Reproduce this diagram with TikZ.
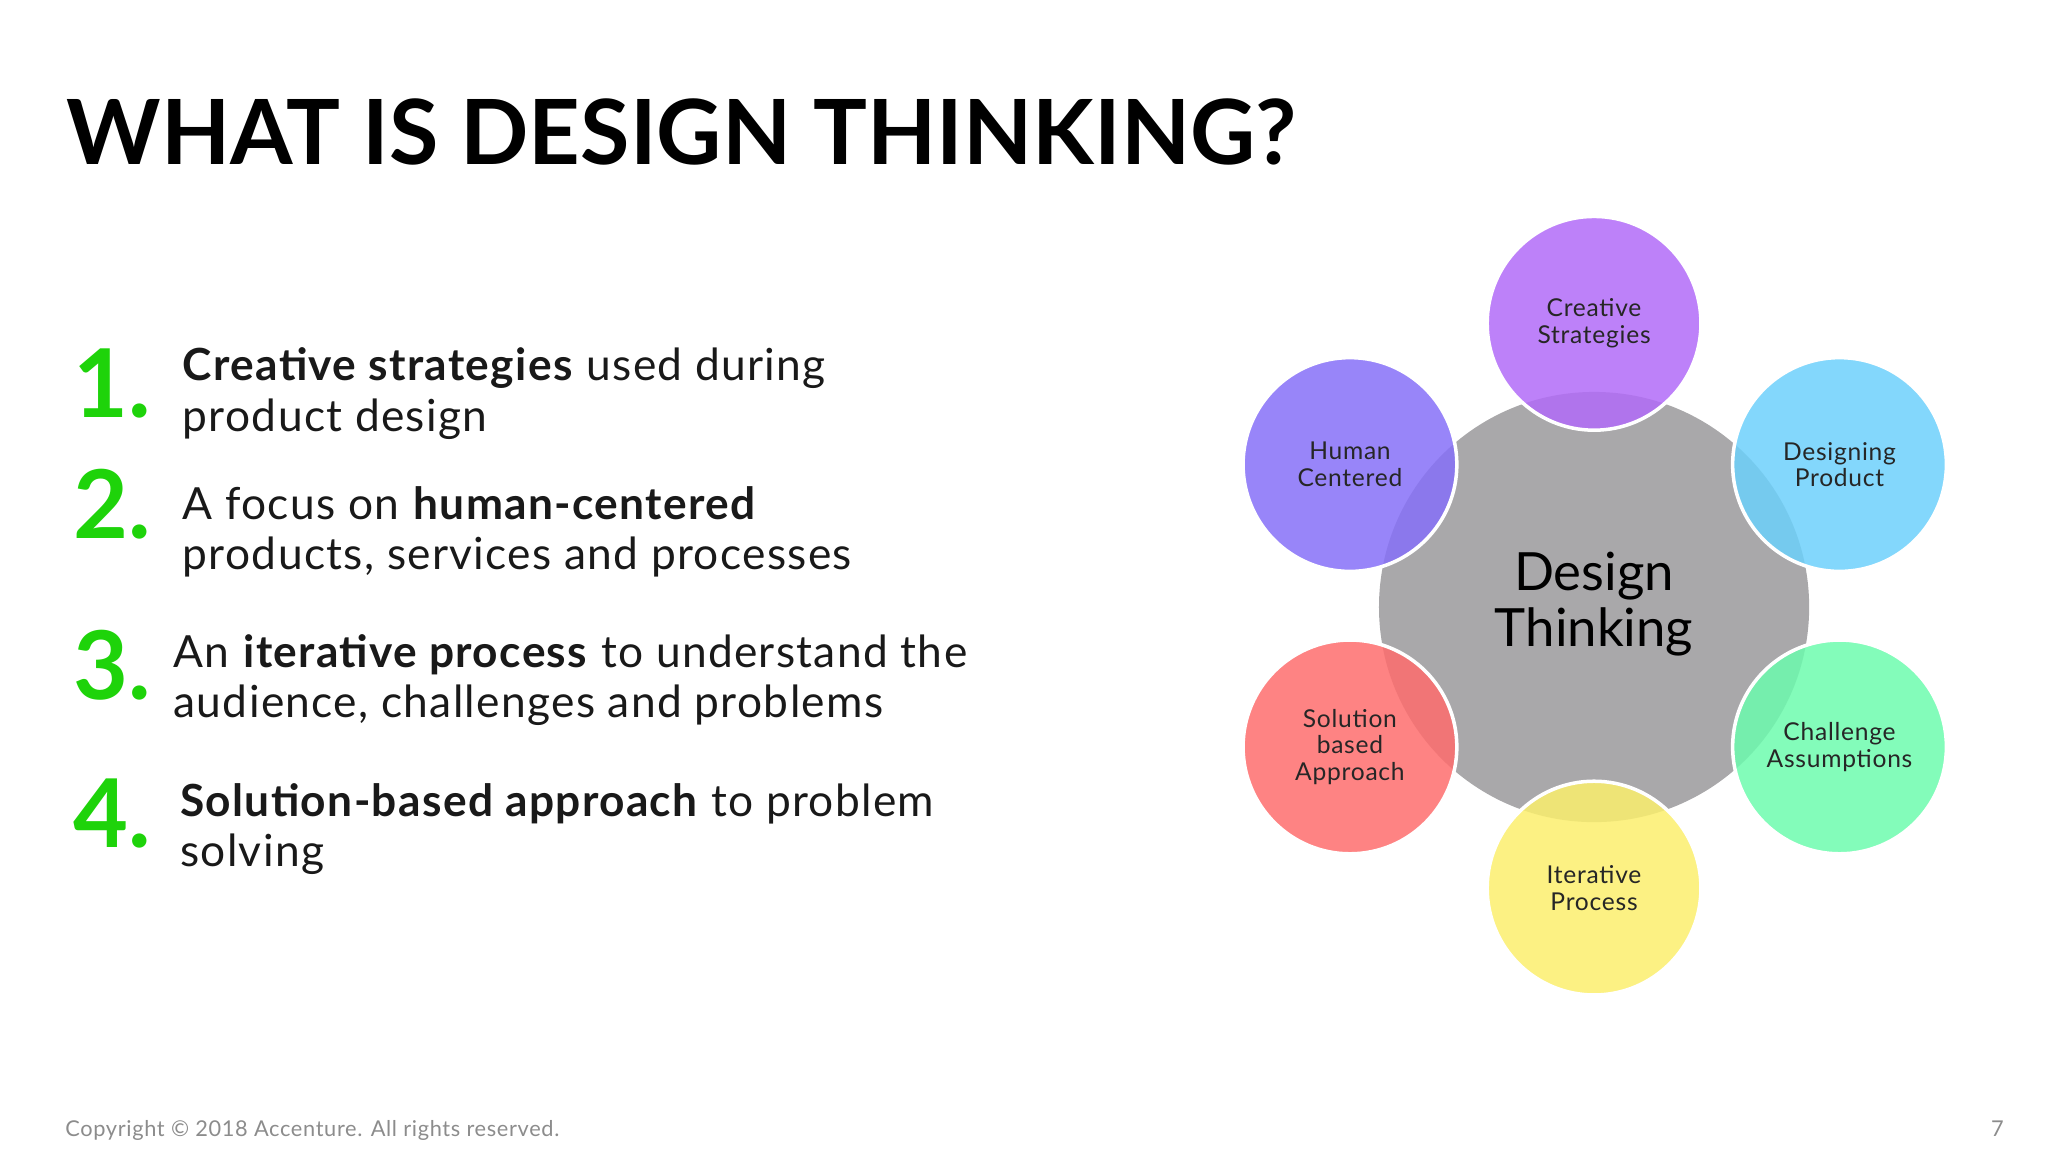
\documentclass[tikz,border=0pt]{standalone}
\usepackage{fontspec}
\setmainfont{Lato}
\newfontfamily\wide[LetterSpace=3]{Lato}
\begin{document}
\begin{tikzpicture}[x=0.013196cm,y=-0.013196cm,
  lbl/.style={font=\wide\fontsize{7pt}{7.6pt}\selectfont,align=center,text=black!85},
  oc/.style={draw=white,line width=1pt,fill opacity=0.85},
  num/.style={anchor=base west,font=\fontsize{27pt}{27pt}\selectfont\bfseries},
  item/.style={anchor=north west,align=left,font=\wide\fontsize{12.6pt}{14.4pt}\selectfont,text=black!90}]
\useasboundingbox (0,0) rectangle (1552,873);
\node[anchor=base west,inner sep=0,font=\fontsize{25.6pt}{26pt}\selectfont\bfseries] (title) at (50,125) {WHAT IS DESIGN THINKING?};
\definecolor{ng}{HTML}{1ED30A}
\node[num,text=ng,inner sep=0] (n1) at (55,316) {1.};
\node[num,text=ng,inner sep=0] (n2) at (55,408) {2.};
\node[num,text=ng,inner sep=0] (n3) at (55,530) {3.};
\node[num,text=ng,inner sep=0] (n4) at (55,642) {4.};
\node[item,inner sep=0] (t1) at (138,263) {\textbf{Creative strategies} used during\\product design};
\node[item,inner sep=0] (t2) at (138,368) {A focus on \textbf{human-centered}\\products, services and processes};
\node[item,inner sep=0] (t3) at (131,480) {An \textbf{iterative process} to understand the\\audience, challenges and problems};
\node[item,inner sep=0] (t4) at (136,593) {\textbf{Solution-based approach} to problem\\solving};
\definecolor{cg}{HTML}{A9A8AA}
\fill[cg] (1208,460) circle (163);
\node[font=\fontsize{15pt}{16pt}\selectfont,align=center] (c) at (1208,458) {Design\\Thinking};
\definecolor{c1}{HTML}{B26BF8}\definecolor{c2}{HTML}{8670F8}\definecolor{c3}{HTML}{6DD0FB}
\definecolor{c4}{HTML}{FE6D6D}\definecolor{c5}{HTML}{6DFBAE}\definecolor{c6}{HTML}{FBEF6D}
\draw[oc,fill=c1] (1208,245) circle (81);
\draw[oc,fill=c2] (1023,352) circle (81);
\draw[oc,fill=c3] (1394,352) circle (81);
\draw[oc,fill=c4] (1023,566) circle (81);
\draw[oc,fill=c5] (1394,566) circle (81);
\draw[oc,fill=c6] (1208,673) circle (81);
\node[lbl] (a) at (1208,245) {Creative\\Strategies};
\node[lbl] (b) at (1023,352) {Human\\Centered};
\node[lbl] (d) at (1394,352) {Designing\\Product};
\node[lbl] (e) at (1023,566) {Solution\\based\\Approach};
\node[lbl] (f) at (1394,566) {Challenge\\Assumptions};
\node[lbl] (g) at (1208,673) {Iterative\\Process};
\node[anchor=base west,inner sep=0,text=black!45,font=\wide\fontsize{6.2pt}{7pt}\selectfont] (copy) at (49,861) {Copyright © 2018 Accenture. All rights reserved.};
\node[anchor=base east,inner sep=0,text=black!45,font=\fontsize{6.2pt}{7pt}\selectfont] (pg) at (1519,861) {7};
\end{tikzpicture}
\end{document}
